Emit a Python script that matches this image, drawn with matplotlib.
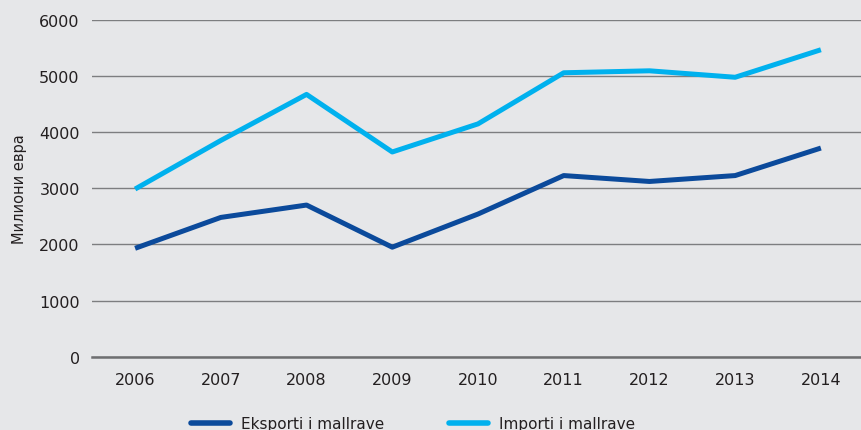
import matplotlib
matplotlib.use('Agg')
import matplotlib.pyplot as plt

# Values (milioni evra)
years = ['2006', '2007', '2008', '2009', '2010', '2011', '2012', '2013', '2014']
eksporti = [1930, 2480, 2700, 1950, 2540, 3225, 3120, 3225, 3715]
importi = [2985, 3850, 4670, 3645, 4145, 5055, 5090, 4975, 5465]

bg = '#e6e7e9'
dark_blue = '#0b4a9b'
light_blue = '#00b1ee'

plt.rcParams['font.family'] = ['DejaVu Sans']

fig = plt.figure(figsize=(8.62, 4.31), dpi=100, facecolor=bg)
ax = fig.add_axes([0.107, 0.170, 0.90, 0.782], facecolor=bg)

x = range(len(years))
ax.plot(x, eksporti, color=dark_blue, lw=3.6, solid_capstyle='butt',
        label='Eksporti i mallrave', zorder=3)
ax.plot(x, importi, color=light_blue, lw=3.6, solid_capstyle='butt',
        label='Importi i mallrave', zorder=3)

ax.set_xlim(-0.5, len(years) - 0.45)
ax.set_ylim(0, 6000)
ax.set_yticks(range(0, 6001, 1000))
ax.set_xticks(list(x))
ax.set_xticklabels(years)
ax.yaxis.grid(True, color='#7d7e80', lw=1.0)
ax.set_axisbelow(True)
for s in ['top', 'right', 'left']:
    ax.spines[s].set_visible(False)
ax.spines['bottom'].set_color('#6e6f71')
ax.spines['bottom'].set_linewidth(1.8)
ax.tick_params(axis='both', length=0, labelsize=11.5, colors='#231f20')
ax.tick_params(axis='x', pad=11)
ax.tick_params(axis='y', pad=9)
ax.set_ylabel('Милиони евра', fontsize=10.5, color='#231f20', labelpad=9)

leg = fig.legend(loc='lower center', bbox_to_anchor=(0.479, -0.035), ncol=2,
                 frameon=False, fontsize=11, handlelength=2.6,
                 columnspacing=4.2, handletextpad=0.7)
for h in leg.get_lines():
    h.set_solid_capstyle('round')
    h.set_linewidth(4)
for t in leg.get_texts():
    t.set_color('#231f20')

fig.savefig('out.png', dpi=100, facecolor=bg)
